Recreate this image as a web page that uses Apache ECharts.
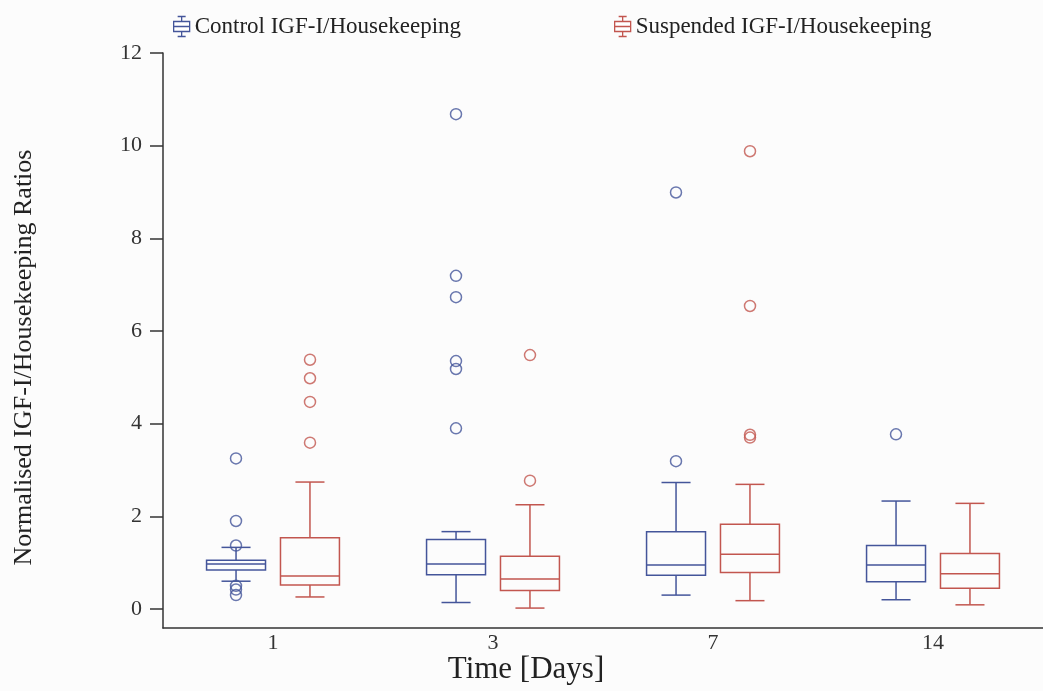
<!DOCTYPE html>
<html>
<head>
<meta charset="utf-8">
<script src="https://cdn.jsdelivr.net/npm/echarts@6/dist/echarts.min.js"></script>
<style>
  html, body { margin: 0; padding: 0; background: #fcfcfc; }
  #chart { width: 1043px; height: 691px; }
</style>
</head>
<body>
<div id="chart"></div>
<script>
// days on the x axis
var days = ['1', '3', '7', '14']
var yTicks = [0, 2, 4, 6, 8, 10, 12]

// [low whisker, q1, median, q3, high whisker]
var controlBoxes = [
  [0.60, 0.84, 0.97, 1.05, 1.33],
  [0.14, 0.74, 0.97, 1.50, 1.67],
  [0.30, 0.73, 0.95, 1.67, 2.73],
  [0.20, 0.59, 0.95, 1.37, 2.33]
]
var suspendedBoxes = [
  [0.26, 0.52, 0.71, 1.54, 2.74],
  [0.02, 0.40, 0.65, 1.14, 2.25],
  [0.18, 0.79, 1.18, 1.83, 2.69],
  [0.09, 0.45, 0.76, 1.20, 2.28]
]

// [day index, value]
var controlOutliers = [
  [0, 3.25], [0, 1.90], [0, 1.37], [0, 0.50], [0, 0.42], [0, 0.30],
  [1, 10.68], [1, 7.19], [1, 6.73], [1, 5.35], [1, 5.18], [1, 3.90],
  [2, 8.99], [2, 3.19],
  [3, 3.77]
]
var suspendedOutliers = [
  [0, 5.38], [0, 4.98], [0, 4.47], [0, 3.59],
  [1, 5.48], [1, 2.77],
  [2, 9.88], [2, 6.54], [2, 3.76], [2, 3.70]
]

var controlName = 'Control IGF-I/Housekeeping'
var suspendedName = 'Suspended IGF-I/Housekeeping'
var blue = '#44559a'
var red = '#c2564f'
var font = 'Liberation Serif'
var boxIcon = 'path://M5,0H13M9,0V5M1,5H17V15H1ZM1,10H17M9,15V20M5,20H13'

function boxRenderer(offsetRatio, color) {
  return function (params, api) {
    var idx = api.value(0)
    var band = api.size([1, 0])[0]
    var cx = api.coord([idx, 0])[0] + band * offsetRatio
    var half = band * 0.134
    var cap = band * 0.066
    var y = function (i) { return api.coord([idx, api.value(i)])[1] }
    var low = y(1), q1 = y(2), med = y(3), q3 = y(4), high = y(5)
    var st = { stroke: color, lineWidth: 1.5, fill: null }
    return {
      type: 'group',
      children: [
        { type: 'rect', shape: { x: cx - half, y: q3, width: half * 2, height: q1 - q3 }, style: st },
        { type: 'line', shape: { x1: cx - half, y1: med, x2: cx + half, y2: med }, style: st },
        { type: 'line', shape: { x1: cx, y1: q3, x2: cx, y2: high }, style: st },
        { type: 'line', shape: { x1: cx, y1: q1, x2: cx, y2: low }, style: st },
        { type: 'line', shape: { x1: cx - cap, y1: high, x2: cx + cap, y2: high }, style: st },
        { type: 'line', shape: { x1: cx - cap, y1: low, x2: cx + cap, y2: low }, style: st }
      ]
    }
  }
}

function withIndex(rows) {
  return rows.map(function (r, i) { return [i].concat(r) })
}

var chart = echarts.init(document.getElementById('chart'))
chart.setOption({
  animation: false,
  backgroundColor: '#fcfcfc',
  legend: [{
    left: 168,
    top: 10,
    itemWidth: 16,
    itemHeight: 20,
    textStyle: { fontFamily: font, fontSize: 23, color: '#222' },
    data: [{ name: controlName, icon: boxIcon, itemStyle: { color: '#fff', borderColor: blue, borderWidth: 1.3 } }]
  }, {
    left: 609,
    top: 10,
    itemWidth: 16,
    itemHeight: 20,
    textStyle: { fontFamily: font, fontSize: 23, color: '#222' },
    data: [{ name: suspendedName, icon: boxIcon, itemStyle: { color: '#fff', borderColor: red, borderWidth: 1.3 } }]
  }],
  grid: {
    left: 163,
    right: 0,
    top: 53,
    bottom: 63,
    outerBoundsMode: 'none'
  },
  xAxis: {
    type: 'category',
    data: days,
    name: 'Time [Days]',
    nameLocation: 'middle',
    nameGap: 26,
    nameMoveOverlap: false,
    nameTextStyle: { fontFamily: font, fontSize: 31, color: '#222', padding: [0, 154, 0, 0] },
    axisLine: { onZero: false, lineStyle: { color: '#333', width: 1.5 } },
    axisTick: { show: false },
    axisLabel: { fontFamily: font, fontSize: 22, color: '#333', margin: 4 }
  },
  yAxis: {
    type: 'value',
    min: -0.41,
    max: 12,
    name: 'Normalised IGF-I/Housekeeping Ratios',
    nameLocation: 'middle',
    nameGap: 126,
    nameMoveOverlap: false,
    nameTextStyle: { fontFamily: font, fontSize: 26, color: '#222', padding: [0, 34, 0, 0] },
    splitLine: { show: false },
    axisLine: { show: true, lineStyle: { color: '#333', width: 1.5 } },
    axisTick: { show: true, length: 13, customValues: yTicks, lineStyle: { color: '#333', width: 1.5 } },
    axisLabel: { fontFamily: font, fontSize: 22, color: '#333', margin: 21, customValues: yTicks }
  },
  series: [{
    name: controlName,
    type: 'custom',
    itemStyle: { color: blue },
    renderItem: boxRenderer(-0.168, blue),
    encode: { x: 0, y: [1, 2, 3, 4, 5] },
    data: withIndex(controlBoxes)
  }, {
    name: suspendedName,
    type: 'custom',
    itemStyle: { color: red },
    renderItem: boxRenderer(0.168, red),
    encode: { x: 0, y: [1, 2, 3, 4, 5] },
    data: withIndex(suspendedBoxes)
  }, {
    name: controlName,
    type: 'scatter',
    symbol: 'circle',
    symbolSize: 11,
    symbolOffset: [-37, 0],
    itemStyle: { color: 'rgba(0,0,0,0)', borderColor: blue, borderWidth: 1.5 },
    data: controlOutliers
  }, {
    name: suspendedName,
    type: 'scatter',
    symbol: 'circle',
    symbolSize: 11,
    symbolOffset: [37, 0],
    itemStyle: { color: 'rgba(0,0,0,0)', borderColor: red, borderWidth: 1.5 },
    data: suspendedOutliers
  }]
})
</script>
</body>
</html>
